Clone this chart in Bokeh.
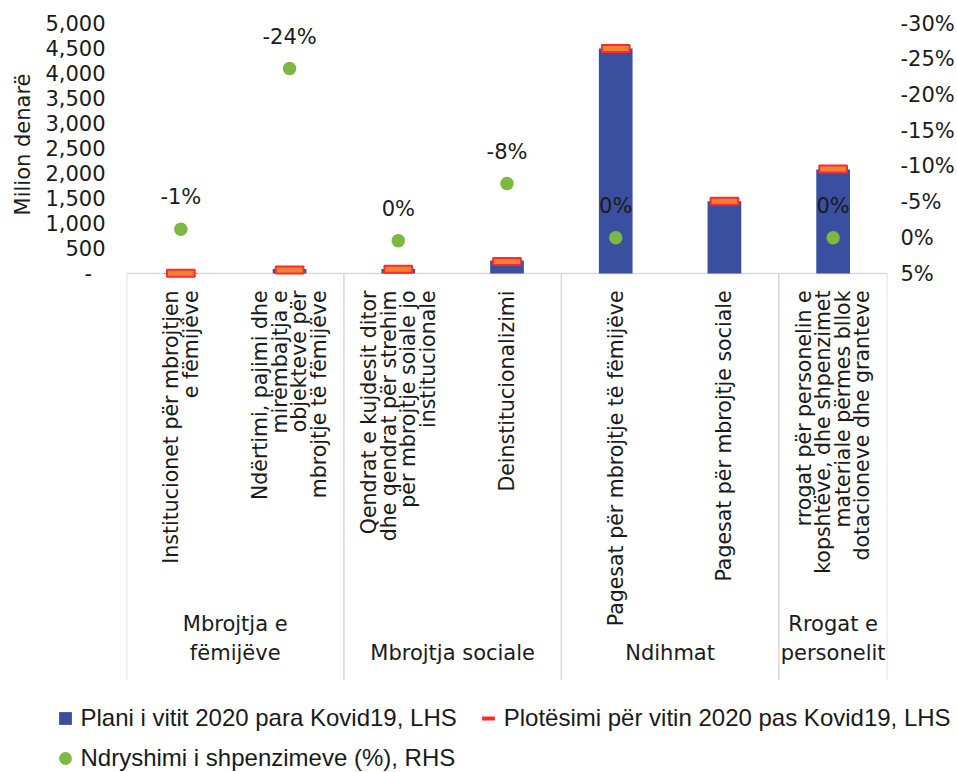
import math
import numpy as np
from bokeh.plotting import figure
from bokeh.layouts import column
from bokeh.models import (ColumnDataSource, FactorRange, Range1d, LinearAxis, FixedTicker,
                          NumeralTickFormatter, Legend, LegendItem, Title)
from bokeh.core.properties import value
from bokeh.embed import file_html
from bokeh.resources import INLINE

# ---------------- data ----------------
groups = ["Mbrojtja e fëmijëve", "Mbrojtja sociale", "Ndihmat", "Rrogat e personelit"]
group_labels = ["Mbrojtja e\nfëmijëve", "Mbrojtja sociale", "Ndihmat", "Rrogat e\npersonelit"]
group_of = [0, 0, 1, 1, 2, 2, 3]
sub_labels = [
    "Institucionet për mbrojtjen\ne fëmijëve",
    "Ndërtimi, pajimi dhe\nmirëmbajtja e\nobjekteve për\nmbrojtje të fëmijëve",
    "Qendrat e kujdesit ditor\ndhe qendrat për strehim\npër mbrojtje soiale jo\ninstitucionale",
    "Deinstitucionalizimi",
    "Pagesat për mbrojtje të fëmijëve",
    "Pagesat për mbrojtje sociale",
    "rrogat për personelin e\nkopshtëve, dhe shpenzimet\nmateriale përmes bllok\ndotacioneve dhe granteve",
]
plan_2020 = [10, 90, 90, 260, 4500, 1445, 2080]          # Milion denarë, LHS
actual_2020 = [5, 68, 86, 240, 4500, 1445, 2090]         # Milion denarë, LHS
pct_change = [-1.2, -23.7, 0.4, -7.6, 0.0, float("nan"), 0.0]  # %, RHS
left_ticks = [0, 500, 1000, 1500, 2000, 2500, 3000, 3500, 4000, 4500, 5000]
right_ticks = [-30, -25, -20, -15, -10, -5, 0, 5]
series_names = ["Plani i vitit 2020 para Kovid19, LHS",
                "Plotësimi për vitin 2020 pas Kovid19, LHS",
                "Ndryshimi i shpenzimeve (%), RHS"]
y_title = "Milion denarë"

# ---------------- styles ----------------
BLUE = "#3B4FA0"
RED = "#FF2B2B"
ORANGE = "#F08236"
GREEN = "#7DB843"
GRID = "#D9D9D9"
TXT = "#1a1a1a"
FONT = "DejaVu Sans"
LFONT = "Liberation Sans"

W = 957
H_MAIN, H_LEG = 680, 92
FL, FR, FT = 123, 890, 23               # frame edges (px)
ZERO = 273                               # px of value 0 / 5 %
upp = left_ticks[-1] / (ZERO - FT)      # left units per px
ppp = (right_ticks[-1] - right_ticks[0]) / (ZERO - FT)  # percent per px
y_bottom = -(H_MAIN - ZERO) * upp
r_bottom = right_ticks[-1] + (H_MAIN - ZERO) * ppp

sub_names = [s.replace("\n", " ") for s in sub_labels]
factors = [(groups[g], s) for g, s in zip(group_of, sub_names)]

p = figure(width=W, height=H_MAIN,
           x_range=FactorRange(*factors, range_padding=0, group_padding=0, factor_padding=0),
           y_range=Range1d(y_bottom, left_ticks[-1]),
           x_axis_location=None, toolbar_location=None, output_backend="svg",
           min_border_left=FL, min_border_right=W - FR,
           min_border_top=FT, min_border_bottom=0)
p.frame_align = False
p.outline_line_color = None
p.grid.visible = False
p.extra_y_ranges = {"pct": Range1d(r_bottom, right_ticks[0])}

# left axis
ya = p.yaxis[0]
ya.ticker = FixedTicker(ticks=left_ticks)
ya.formatter = NumeralTickFormatter(format="0,0")
ya.major_label_overrides = {0: "-\u00a0\u00a0"}
# right axis
ra = LinearAxis(y_range_name="pct", ticker=FixedTicker(ticks=right_ticks),
                major_label_overrides={t: f"{t}%" for t in right_ticks})
p.add_layout(ra, "right")
for ax, so in ((ya, 15), (ra, 7)):
    ax.axis_line_color = None
    ax.major_tick_line_color = None
    ax.minor_tick_line_color = None
    ax.major_label_standoff = so
    ax.major_label_text_font = FONT
    ax.major_label_text_font_size = "21px"
    ax.major_label_text_color = TXT

# y-axis title (left side panel, placed near the top)
p.add_layout(Title(text=y_title, align="right", offset=50, text_font=FONT,
                   text_font_size="21px", text_font_style="normal",
                   text_color=TXT, standoff=16), "left")

# separators (group boundaries) and category axis line
counts = [group_of.count(g) for g in range(len(groups))]
bounds = [0] + list(np.cumsum(counts))
p.segment(x0=bounds, y0=[0] * len(bounds), x1=bounds, y1=[y_bottom] * len(bounds),
          line_color=GRID, line_width=1.5)
p.segment(x0=[0], y0=[0], x1=[len(sub_labels)], y1=[0], line_color=GRID, line_width=1.5)

# bars + markers
src = ColumnDataSource(dict(x=factors, plan=plan_2020, act=actual_2020))
p.vbar(x="x", top="plan", width=0.31, source=src, fill_color=BLUE, line_color=None)
p.rect(x="x", y="act", width=0.255, height=7, height_units="screen", source=src,
       fill_color=ORANGE, line_color=RED, line_width=2)

# percentage dots + labels
pct_arr = np.array(pct_change, dtype=float)
pct_txt = ["" if np.isnan(v) else f"{int(round(v)) + 0}%" for v in pct_arr]
dsrc = ColumnDataSource(dict(x=factors, y=pct_arr, t=pct_txt))
p.scatter(x="x", y="y", source=dsrc, y_range_name="pct", size=13.5,
          fill_color=GREEN, line_color=None)
p.text(x="x", y="y", text="t", source=dsrc, y_range_name="pct", y_offset=-32,
       text_align="center", text_baseline="middle", text_font=value(FONT),
       text_font_size="21px", text_color=TXT)

# sub-category labels (rotated)
lx, lo, lt = [], [], []
for f, lab in zip(factors, sub_labels):
    lines = lab.split("\n")
    n = len(lines)
    for j, ln in enumerate(lines):
        lx.append(f); lo.append((j - (n - 1) / 2) * 19.5); lt.append(ln)
lsrc = ColumnDataSource(dict(x=lx, xo=lo, t=lt))
p.text(x="x", y=-17 * upp, x_offset="xo", text="t", source=lsrc, angle=math.pi / 2,
       text_align="right", text_baseline="middle", text_font=value(FONT),
       text_font_size="20.5px", text_color=TXT)

# group labels
gx, gy, gt = [], [], []
for g, lab in zip(groups, group_labels):
    lines = lab.split("\n")
    n = len(lines)
    for j, ln in enumerate(lines):
        gx.append(g); gy.append(-29 * (n - 1 - j)); gt.append(ln)
gsrc = ColumnDataSource(dict(x=gx, yo=gy, t=gt))
p.text(x="x", y=-379 * upp, y_offset="yo", text="t", source=gsrc,
       text_align="center", text_baseline="middle", text_font=value(FONT),
       text_font_size="21px", text_color=TXT)

# ---------------- legend strip ----------------
pl = figure(width=W, height=H_LEG, x_range=Range1d(0, W), y_range=Range1d(0, H_LEG),
            x_axis_location=None, y_axis_location=None, toolbar_location=None,
            output_backend="svg", min_border_left=0, min_border_right=0,
            min_border_top=0, min_border_bottom=0)
pl.frame_align = False
pl.outline_line_color = None
pl.grid.visible = False
nan1 = np.array([np.nan])
r_sq = pl.scatter(x=nan1, y=nan1, marker="square", size=13, fill_color=BLUE, line_color=None)
r_dash = pl.scatter(x=nan1, y=nan1, marker="dash", size=13, line_color=RED, line_width=4)
r_dot = pl.scatter(x=nan1, y=nan1, marker="circle", size=13, fill_color=GREEN, line_color=None)

common = dict(glyph_width=32, glyph_height=32, label_standoff=0, padding=0, margin=0,
              border_line_color=None, background_fill_alpha=0,
              label_text_font=LFONT, label_text_font_size="24px", label_text_color=TXT)
leg_a = Legend(items=[LegendItem(label=series_names[0], renderers=[r_sq]),
                      LegendItem(label=series_names[1], renderers=[r_dash])],
               orientation="horizontal", spacing=15, location=(48.5, 38), **common)
leg_b = Legend(items=[LegendItem(label=series_names[2], renderers=[r_dot])],
               orientation="horizontal", location=(48.5, -2), **common)
pl.add_layout(leg_a)
pl.add_layout(leg_b)

open("out.html", "w").write(file_html(column(p, pl), INLINE))
